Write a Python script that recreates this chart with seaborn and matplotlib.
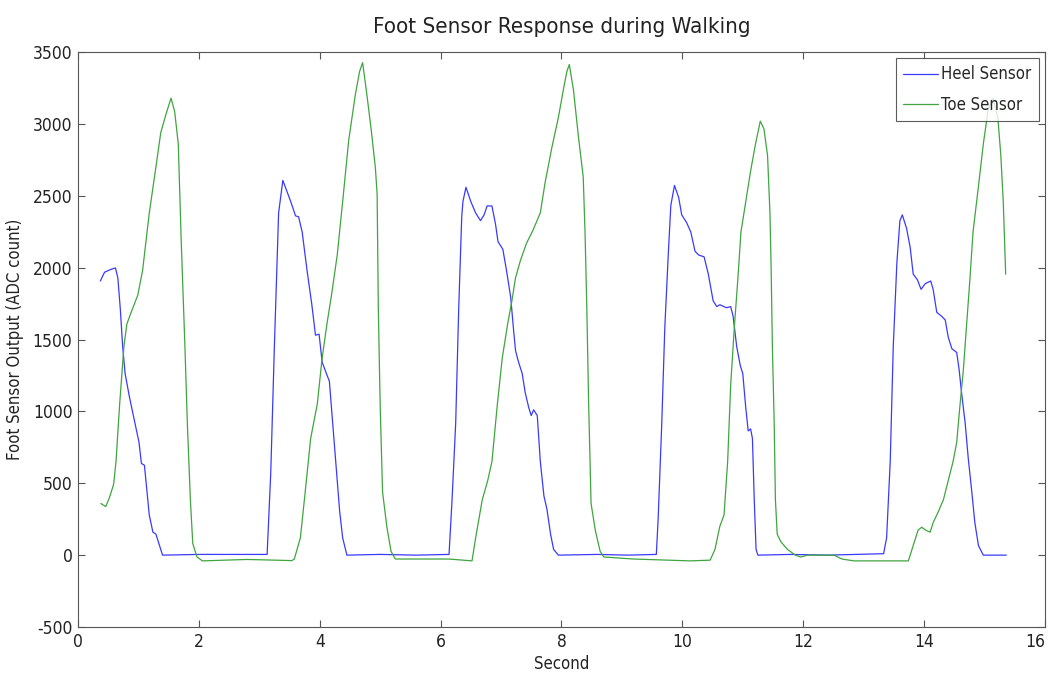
import matplotlib
matplotlib.use("Agg")
import matplotlib.pyplot as plt
import seaborn as sns
import pandas as pd
from matplotlib import font_manager

# ---- data ----
heel_t = [0.37, 0.44, 0.54, 0.62, 0.66, 0.70, 0.74, 0.78, 0.85, 0.93, 1.01, 1.05, 1.10, 1.18, 1.24, 1.29, 1.33, 1.40,
          2.0, 2.6, 3.13,
          3.19, 3.25, 3.32, 3.39, 3.46, 3.52, 3.60, 3.65, 3.71, 3.79, 3.87, 3.93, 3.99, 4.04, 4.11, 4.16, 4.23, 4.33, 4.38, 4.45,
          5.0, 5.6, 6.14,
          6.19, 6.25, 6.30, 6.35, 6.37, 6.42, 6.50, 6.58, 6.66, 6.72, 6.77, 6.85, 6.91, 6.95, 7.03, 7.09, 7.16, 7.21, 7.24,
          7.29, 7.35, 7.40, 7.46, 7.50, 7.54, 7.60, 7.65, 7.71, 7.76, 7.82, 7.87, 7.95,
          8.6, 9.1, 9.57,
          9.60, 9.66, 9.71, 9.77, 9.81, 9.87, 9.94, 9.99, 10.07, 10.14, 10.21, 10.27, 10.36, 10.43, 10.51, 10.57, 10.62,
          10.73, 10.80, 10.84, 10.90, 10.96, 11.00, 11.05, 11.09, 11.13, 11.16, 11.19, 11.22, 11.25,
          11.8, 12.4, 12.9, 13.33,
          13.38, 13.44, 13.49, 13.55, 13.60, 13.64, 13.71, 13.77, 13.82, 13.89, 13.95, 14.02, 14.11, 14.15, 14.21, 14.29,
          14.35, 14.40, 14.46, 14.54, 14.58, 14.62, 14.68, 14.73, 14.79, 14.84, 14.90, 14.98, 15.36]
heel_v = [1907, 1968, 1987, 1998, 1929, 1716, 1450, 1264, 1104, 944, 785, 638, 625, 279, 160, 146, 93, 0,
          5, 5, 5,
          572, 1450, 2380, 2607, 2527, 2460, 2360, 2354, 2248, 1982, 1742, 1530, 1537, 1343, 1264, 1210, 838, 306, 120, 0,
          5, 0, 5,
          386, 918, 1716, 2354, 2460, 2559, 2460, 2380, 2327, 2367, 2429, 2429, 2300, 2181, 2128, 1982, 1795, 1556, 1423,
          1343, 1264, 1131, 1024, 971, 1011, 971, 652, 412, 319, 146, 40, 0,
          5, 0, 5,
          253, 918, 1582, 2114, 2434, 2572, 2487, 2367, 2314, 2248, 2114, 2088, 2075, 1955, 1769, 1729, 1742,
          1721, 1729, 1662, 1450, 1317, 1264, 1024, 864, 878, 811, 386, 40, 0,
          5, 0, 5, 10,
          120, 652, 1450, 2035, 2327, 2367, 2274, 2141, 1955, 1915, 1849, 1889, 1907, 1849, 1689, 1662,
          1636, 1516, 1436, 1410, 1290, 1131, 918, 678, 439, 226, 66, 0, 0]

toe_t = [0.38, 0.46, 0.52, 0.59, 0.63, 0.69, 0.76, 0.81, 0.88, 0.99, 1.07, 1.18, 1.29, 1.37, 1.46, 1.54, 1.60, 1.66,
         1.71, 1.77, 1.81, 1.86, 1.90, 1.97, 2.06, 2.8, 3.54, 3.58,
         3.68, 3.76, 3.85, 3.96, 4.04, 4.12, 4.20, 4.29, 4.38, 4.48, 4.59, 4.66, 4.71, 4.78, 4.85, 4.92, 4.95, 4.97, 5.00,
         5.04, 5.11, 5.18, 5.25, 5.49, 6.14, 6.52,
         6.58, 6.69, 6.78, 6.85, 6.94, 7.02, 7.11, 7.18, 7.24, 7.32, 7.42, 7.53, 7.65, 7.73, 7.84, 7.95, 8.04, 8.09, 8.13,
         8.20, 8.28, 8.36, 8.39, 8.42, 8.45, 8.49, 8.56, 8.64, 8.70, 9.19, 10.13, 10.46,
         10.54, 10.62, 10.69, 10.75, 10.80, 10.86, 10.92, 10.97, 11.05, 11.13, 11.21, 11.29, 11.35, 11.41, 11.45, 11.47,
         11.49, 11.52, 11.54, 11.57, 11.63, 11.74, 11.87, 11.96, 12.07, 12.23, 12.51, 12.64, 12.84, 13.74,
         13.82, 13.90, 13.96, 14.03, 14.10, 14.15, 14.24, 14.32, 14.40, 14.48, 14.54, 14.59, 14.65, 14.70, 14.76, 14.81,
         14.90, 14.98, 15.06, 15.14, 15.22, 15.27, 15.31, 15.35]
toe_v = [359, 338, 399, 492, 652, 1051, 1450, 1609, 1689, 1809, 1982, 2380, 2700, 2939, 3072, 3179, 3086, 2860,
         2168, 1450, 918, 386, 80, -13, -40, -30, -38, -27,
         120, 439, 811, 1051, 1370, 1609, 1822, 2088, 2460, 2886, 3205, 3365, 3426, 3205, 2966, 2700, 2514, 1716, 1051,
         439, 200, 27, -27, -27, -27, -40,
         120, 386, 519, 652, 1051, 1370, 1609, 1769, 1929, 2048, 2168, 2261, 2381, 2593, 2833, 3046, 3258, 3365, 3413,
         3232, 2913, 2633, 2248, 1716, 1051, 359, 173, 27, -13, -27, -40, -35,
         40, 200, 279, 652, 1184, 1582, 1929, 2248, 2460, 2673, 2859, 3019, 2966, 2780, 2380, 1982,
         1450, 918, 386, 146, 93, 40, 0, -13, 0, 0, 0, -27, -40, -40,
         66, 173, 194, 173, 160, 226, 306, 386, 519, 652, 785, 1024, 1290, 1582, 1929, 2248,
         2567, 2859, 3099, 3179, 3046, 2780, 2460, 1955]

x_ticks = [0, 2, 4, 6, 8, 10, 12, 14, 16]
y_ticks = [-500, 0, 500, 1000, 1500, 2000, 2500, 3000, 3500]

heel_df = pd.DataFrame({"Second": heel_t, "ADC": heel_v})
toe_df = pd.DataFrame({"Second": toe_t, "ADC": toe_v})

sns.set_theme(style="white")
# prefer a condensed face if one is installed, to mimic the narrow font of the reference
condensed = [f.name for f in font_manager.fontManager.ttflist
             if str(f.stretch).lower() in ("condensed", "semi-condensed", "extra-condensed")
             or "Condensed" in f.name or "Narrow" in f.name]
fam = []
for cand in ["Liberation Sans Narrow", "DejaVu Sans Condensed"] + condensed:
    if cand not in fam and any(f.name == cand for f in font_manager.fontManager.ttflist):
        fam.append(cand)
fam.append("DejaVu Sans")
plt.rcParams["font.family"] = fam
plt.rcParams["font.stretch"] = "condensed"
plt.rcParams["xtick.direction"] = "in"
plt.rcParams["ytick.direction"] = "in"

fig = plt.figure(figsize=(10.52, 6.78), dpi=100)
ax = fig.add_axes([0.0741, 0.0752, 0.9192, 0.8481])

sns.lineplot(data=heel_df, x="Second", y="ADC", ax=ax, color="#3a3aff", linewidth=0.9,
             estimator=None, sort=False, label="Heel Sensor")
sns.lineplot(data=toe_df, x="Second", y="ADC", ax=ax, color="#3fa53f", linewidth=0.9,
             estimator=None, sort=False, label="Toe Sensor")

ax.set_xlim(0, 16)
ax.set_ylim(-500, 3500)
ax.set_xticks(x_ticks)
ax.set_yticks(y_ticks)
ax.set_xticklabels([str(v) for v in x_ticks], fontsize=12.5, color="#222222")
ax.set_yticklabels([str(v) for v in y_ticks], fontsize=12.5, color="#222222")
ax.tick_params(axis="both", which="both", length=5, width=0.8, color="#555555",
               top=True, right=True, bottom=True, left=True, pad=4)
for s in ax.spines.values():
    s.set_visible(True)
    s.set_color("#555555")
    s.set_linewidth(0.8)

ax.set_xlabel("Second", fontsize=12, color="#222222", labelpad=3)
ax.set_ylabel("Foot Sensor Output (ADC count)", fontsize=12, color="#222222", labelpad=6)
ax.set_title("Foot Sensor Response during Walking", fontsize=16, color="#222222", pad=14)

leg = ax.legend(loc="upper right", fontsize=12, frameon=True, fancybox=False,
                handlelength=2.1, borderaxespad=0.35, handletextpad=0.2, labelspacing=0.75,
                borderpad=0.45)
leg.get_frame().set_edgecolor("#333333")
leg.get_frame().set_linewidth(0.8)

# keep the right-most tick label inside the canvas
lbls = ax.get_xticklabels()
lbls[-1].set_horizontalalignment("right")

fig.savefig("out.png", dpi=100)
